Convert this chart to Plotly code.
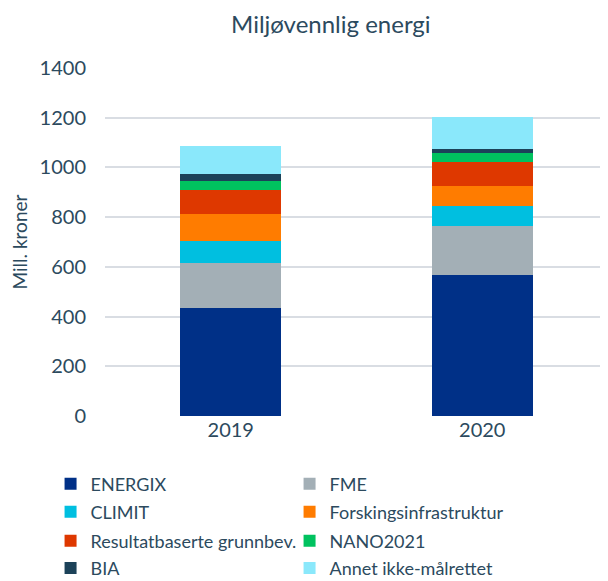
import plotly.graph_objects as go

years = ["2019", "2020"]
series_names = ["ENERGIX", "FME", "CLIMIT", "Forskingsinfrastruktur",
                "Resultatbaserte grunnbev.", "NANO2021", "BIA", "Annet ikke-målrettet"]
energix = [433, 567]
fme = [181, 197]
climit = [92, 80]
forsk = [106, 81]
resultat = [96, 96]
nano = [38, 39]
bia = [29, 16]
annet = [110, 125]
colors = ["#003087", "#a3afb6", "#00bfe0", "#ff7c00",
          "#de3800", "#00c25f", "#1c4259", "#8ae8fb"]

values = [energix, fme, climit, forsk, resultat, nano, bia, annet]
text_col = "#2c4a5e"

# one legend per row, two entries each
legend_ids = ["legend", "legend", "legend2", "legend2",
              "legend3", "legend3", "legend4", "legend4"]
row_y = [0.1807, 0.1325, 0.0826, 0.0355]

fig = go.Figure()
for name, vals, col, lg in zip(series_names, values, colors, legend_ids):
    fig.add_trace(go.Bar(x=years, y=vals, name=name, marker_color=col,
                         marker_line_width=0, legend=lg))


def row_legend(y):
    return dict(orientation="h", traceorder="normal",
                x=0.07, xanchor="left", xref="container",
                y=y, yanchor="middle", yref="container",
                entrywidth=194, entrywidthmode="pixels",
                itemwidth=30, font=dict(size=18, color=text_col),
                bgcolor="rgba(0,0,0,0)")


fig.update_layout(
    width=608, height=581,
    barmode="stack",
    bargap=0.6,
    plot_bgcolor="white",
    paper_bgcolor="white",
    font=dict(family="Lato", color=text_col, size=18),
    title=dict(text="Miljøvennlig energi", x=0.531, xanchor="center",
               y=0.972, yanchor="middle", xref="container", yref="container",
               font=dict(size=24, color=text_col)),
    # page body adds an 8px offset, margins compensate
    margin=dict(l=95, r=8, t=60, b=173),
    yaxis=dict(range=[0, 1400], dtick=200, gridcolor="#d9dde3", gridwidth=1.5,
               zeroline=False, ticks="", ticklabelstandoff=18,
               tickfont=dict(size=20),
               title=dict(text="Mill. kroner", font=dict(size=19, color=text_col), standoff=10)),
    xaxis=dict(showline=False, ticks="", tickfont=dict(size=20)),
    showlegend=True,
    legend=row_legend(row_y[0]),
    legend2=row_legend(row_y[1]),
    legend3=row_legend(row_y[2]),
    legend4=row_legend(row_y[3]),
)

fig.write_html("out.html")
